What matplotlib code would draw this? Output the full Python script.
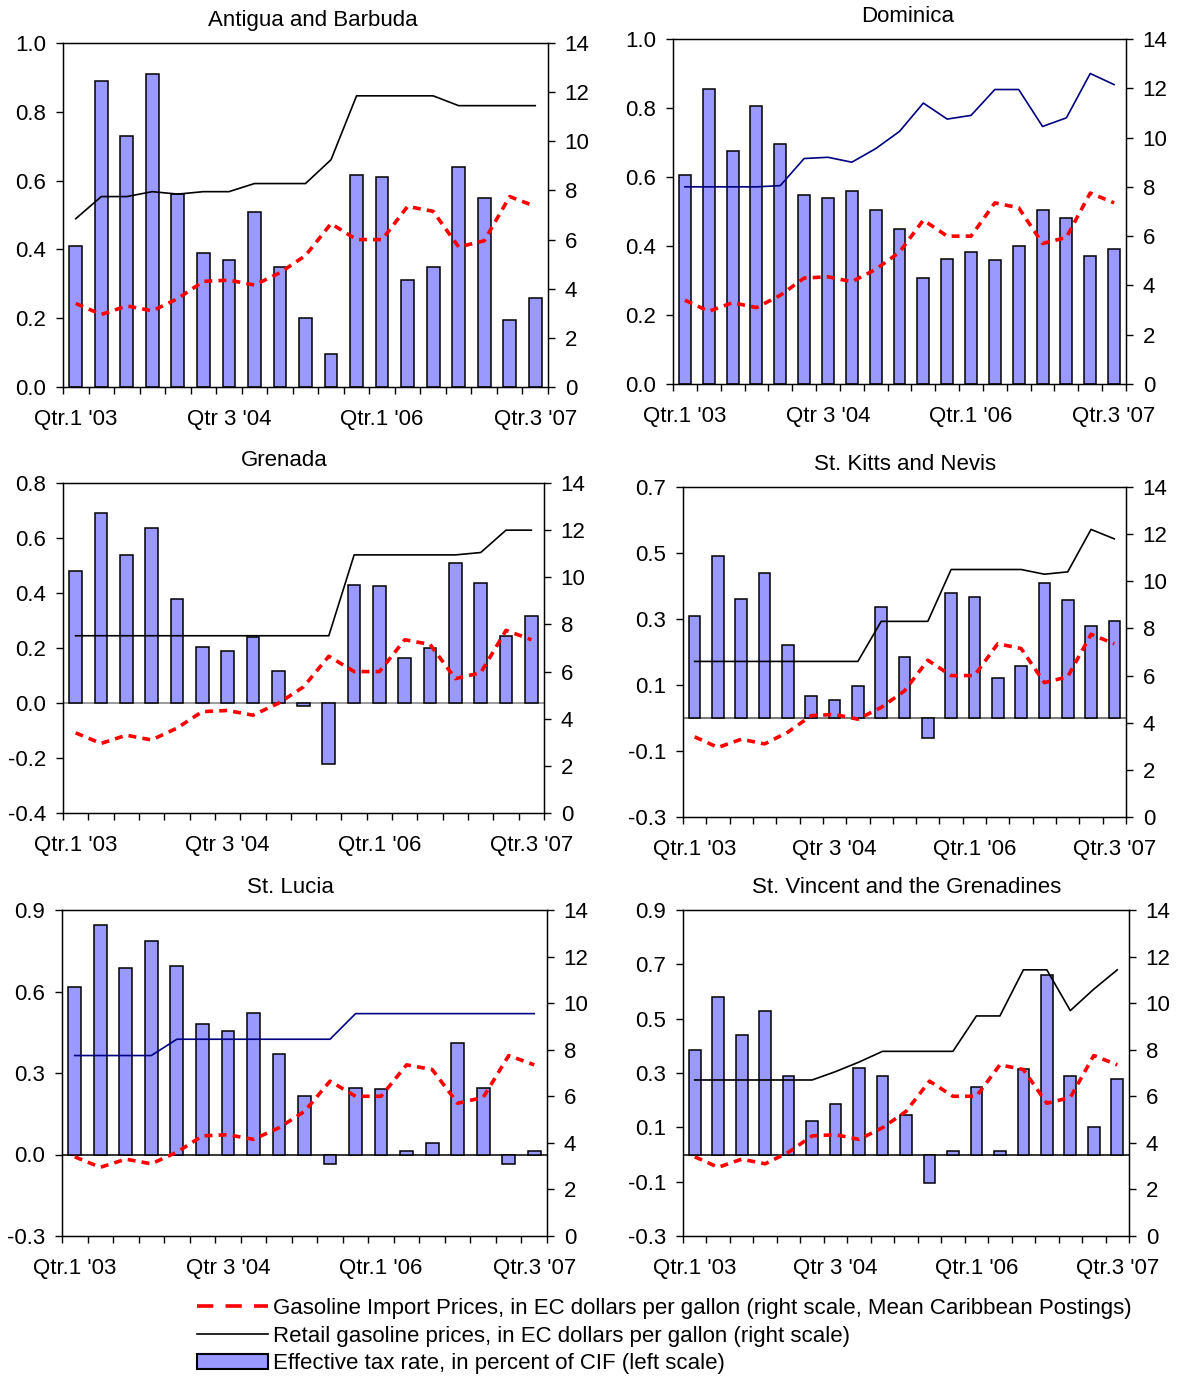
import numpy as np
import matplotlib
matplotlib.use("Agg")
import matplotlib.pyplot as plt
from matplotlib.lines import Line2D
from matplotlib.patches import Patch

plt.rcParams['font.family'] = ['Liberation Sans', 'DejaVu Sans']

W, H = 1183, 1376

quarters = ["Qtr.1 '03", "Q2 '03", "Q3 '03", "Q4 '03",
            "Q1 '04", "Q2 '04", "Qtr 3 '04", "Q4 '04",
            "Q1 '05", "Q2 '05", "Q3 '05", "Q4 '05",
            "Qtr.1 '06", "Q2 '06", "Q3 '06", "Q4 '06",
            "Q1 '07", "Q2 '07", "Qtr.3 '07"]
label_idx = [0, 6, 12, 18]

# Gasoline import prices (Mean Caribbean Postings), EC$ per gallon (right scale)
import_price = [3.4, 2.95, 3.3, 3.1, 3.6, 4.3, 4.35, 4.15, 4.65, 5.35,
                6.65, 6.0, 6.0, 7.35, 7.15, 5.7, 5.95, 7.75, 7.35]

# Effective tax rate (left scale)
tax_antigua = [0.41, 0.89, 0.73, 0.91, 0.56, 0.39, 0.37, 0.51, 0.35, 0.20,
               0.095, 0.615, 0.61, 0.31, 0.35, 0.64, 0.55, 0.195, 0.26]
tax_dominica = [0.605, 0.855, 0.675, 0.805, 0.695, 0.548, 0.54, 0.56, 0.505, 0.448,
                0.307, 0.363, 0.382, 0.358, 0.40, 0.505, 0.48, 0.372, 0.39]
tax_grenada = [0.48, 0.69, 0.54, 0.635, 0.38, 0.205, 0.19, 0.24, 0.115, -0.01,
               -0.22, 0.43, 0.425, 0.165, 0.20, 0.51, 0.435, 0.245, 0.315]
tax_stkitts = [0.31, 0.49, 0.36, 0.44, 0.22, 0.068, 0.055, 0.097, 0.335, 0.185,
               -0.06, 0.378, 0.368, 0.122, 0.157, 0.41, 0.358, 0.28, 0.295]
tax_stlucia = [0.615, 0.845, 0.685, 0.785, 0.695, 0.48, 0.455, 0.52, 0.37, 0.215,
               -0.035, 0.245, 0.24, 0.012, 0.043, 0.41, 0.245, -0.035, 0.012]
tax_stvincent = [0.385, 0.58, 0.44, 0.53, 0.29, 0.125, 0.185, 0.32, 0.29, 0.145,
                 -0.105, 0.013, 0.248, 0.012, 0.313, 0.66, 0.29, 0.10, 0.278]

# Retail gasoline prices, EC$ per gallon (right scale)
retail_antigua = [6.85, 7.75, 7.75, 7.95, 7.85, 7.95, 7.95, 8.28, 8.28, 8.28,
                  9.25, 11.85, 11.85, 11.85, 11.85, 11.45, 11.45, 11.45, 11.45]
retail_dominica = [8.0, 8.0, 8.0, 8.0, 8.05, 9.15, 9.2, 9.0, 9.55, 10.25,
                   11.4, 10.75, 10.9, 11.95, 11.95, 10.45, 10.8, 12.6, 12.15]
retail_grenada = [7.52, 7.52, 7.52, 7.52, 7.52, 7.52, 7.52, 7.52, 7.52, 7.52,
                  7.52, 10.95, 10.95, 10.95, 10.95, 10.95, 11.05, 12.0, 12.0]
retail_stkitts = [6.6, 6.6, 6.6, 6.6, 6.6, 6.6, 6.6, 6.6, 8.3, 8.3,
                  8.3, 10.5, 10.5, 10.5, 10.5, 10.3, 10.4, 12.2, 11.8]
retail_stlucia = [7.75, 7.75, 7.75, 7.75, 8.45, 8.45, 8.45, 8.45, 8.45, 8.45,
                  8.45, 9.55, 9.55, 9.55, 9.55, 9.55, 9.55, 9.55, 9.55]
retail_stvincent = [6.7, 6.7, 6.7, 6.7, 6.7, 6.7, 7.06, 7.47, 7.93, 7.93,
                    7.93, 7.93, 9.45, 9.45, 11.43, 11.43, 9.68, 10.6, 11.43]

panels = [
    dict(title="Antigua and Barbuda", tax=tax_antigua, retail=retail_antigua,
         rcolor="black", ylim=(0.0, 1.0), yticks=np.arange(0, 1.01, 0.2),
         box=(63, 548, 43, 387), zero=None, tx=313),
    dict(title="Dominica", tax=tax_dominica, retail=retail_dominica,
         rcolor="#000080", ylim=(0.0, 1.0), yticks=np.arange(0, 1.01, 0.2),
         box=(673, 1126, 39, 384), zero=None, tx=908),
    dict(title="Grenada", tax=tax_grenada, retail=retail_grenada,
         rcolor="black", ylim=(-0.4, 0.8), yticks=np.arange(-0.4, 0.81, 0.2),
         box=(63, 544, 483, 813), zero="#7f7f7f", tx=284),
    dict(title="St. Kitts and Nevis", tax=tax_stkitts, retail=retail_stkitts,
         rcolor="black", ylim=(-0.3, 0.7), yticks=np.arange(-0.3, 0.71, 0.2),
         box=(683, 1126, 487, 817), zero="#555555", tx=905),
    dict(title="St. Lucia", tax=tax_stlucia, retail=retail_stlucia,
         rcolor="#000080", ylim=(-0.3, 0.9), yticks=np.arange(-0.3, 0.91, 0.3),
         box=(62, 547, 910, 1236), zero="black", tx=290),
    dict(title="St. Vincent and the Grenadines", tax=tax_stvincent, retail=retail_stvincent,
         rcolor="black", ylim=(-0.3, 0.9), yticks=np.arange(-0.3, 0.91, 0.2),
         box=(683, 1129, 910, 1236), zero="black", tx=907),
]

BAR_COLOR = "#9999FF"
FS = 16

fig = plt.figure(figsize=(W / 100, H / 100), dpi=100)
x = np.arange(len(quarters))

for p in panels:
    L, R, T, B = p["box"]
    ax = fig.add_axes([L / W, 1 - B / H, (R - L) / W, (B - T) / H])
    ax.bar(x, p["tax"], width=0.5, color=BAR_COLOR, edgecolor="black",
           linewidth=1.1, zorder=2)
    ax.set_xlim(-0.5, len(quarters) - 0.5)
    ax.set_ylim(*p["ylim"])
    ax.set_yticks(p["yticks"])
    ax.set_yticklabels([f"{v:.1f}" for v in p["yticks"]])
    if p["zero"] is not None:
        ax.axhline(0, color=p["zero"], lw=1.1, zorder=1)
    ax.set_xticks(label_idx)
    ax.set_xticklabels([quarters[i] for i in label_idx])
    ax.set_xticks(np.arange(-0.5, len(quarters), 1.0), minor=True)
    ax.tick_params(axis="x", which="major", length=0, pad=15.5, labelsize=FS)
    ax.tick_params(axis="x", which="minor", length=5, width=1, direction="out")
    ax.tick_params(axis="y", length=5, width=1, direction="out", pad=7, labelsize=FS)
    for s in ax.spines.values():
        s.set_linewidth(1.0)
    ax.set_title(p["title"], fontsize=FS, pad=12.5, x=(p["tx"] - L) / (R - L))

    ax2 = ax.twinx()
    ax2.plot(x, import_price, color="#FF0000", lw=2.6, dashes=(2.2, 1.7), zorder=3)
    ax2.plot(x, p["retail"], color=p["rcolor"], lw=1.2, zorder=4)
    ax2.set_ylim(0, 14)
    ax2.set_yticks(np.arange(0, 15, 2))
    ax2.tick_params(axis="y", length=5, width=1, direction="out", pad=7, labelsize=FS)
    ax2.set_xlim(-0.5, len(quarters) - 0.5)

handles = [
    Line2D([0], [0], color="#FF0000", lw=2.6, dashes=(4.5, 3.4)),
    Line2D([0], [0], color="black", lw=1.2),
    Patch(facecolor=BAR_COLOR, edgecolor="black", linewidth=1.5),
]
labels = [
    "Gasoline Import Prices, in EC dollars per gallon (right scale, Mean Caribbean Postings)",
    "Retail gasoline prices, in EC dollars per gallon (right scale)",
    "Effective tax rate, in percent of CIF (left scale)",
]
fig.legend(handles, labels, loc="upper left", bbox_to_anchor=(197 / W, 1 - 1298 / H),
           frameon=False, fontsize=FS, handlelength=3.2, handletextpad=0.23,
           labelspacing=0.3, borderpad=0, borderaxespad=0)

fig.savefig("out.png", dpi=100)
